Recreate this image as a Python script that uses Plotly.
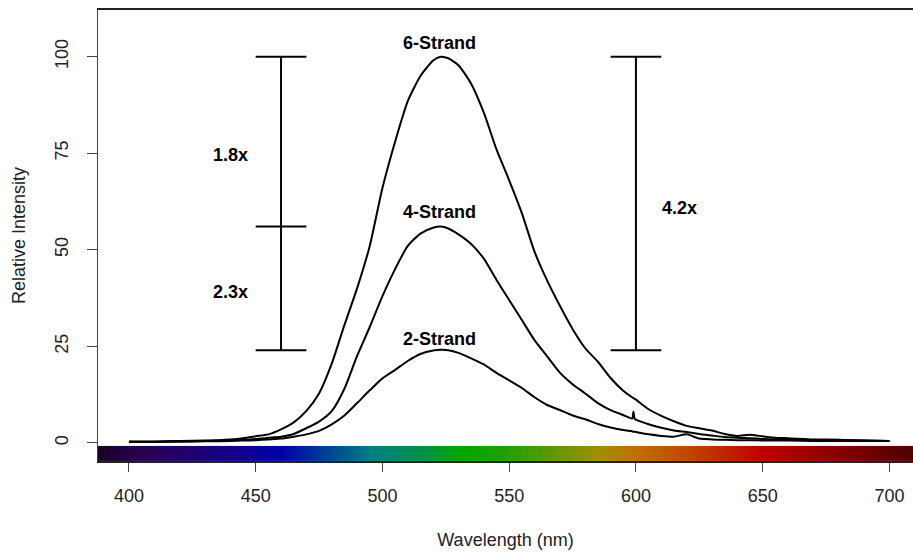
import plotly.graph_objects as go
import numpy as np

# ---------------- data ----------------
wavelength = [400, 410, 420, 430, 440, 445, 450, 455, 460, 465, 470, 475, 480, 485, 490,
              495, 500, 505, 510, 515, 520, 523, 526, 530, 535, 540, 545, 550, 555, 560,
              565, 570, 575, 580, 585, 590, 595, 598.5, 599, 599.5, 600, 605, 610, 615,
              620, 625, 630, 635, 640, 645, 650, 655, 660, 670, 680, 690, 700]

strand6 = [0.3, 0.3, 0.5, 0.6, 0.9, 1.2, 1.7, 2.2, 3.5, 5.3, 8.3, 12.8, 20.5, 30.5, 40,
           51, 66, 78, 88.5, 95, 99, 100, 99.6, 97.8, 93, 85.5, 76, 68, 59.5, 49.5,
           42, 35.5, 29.5, 24.5, 21, 16.8, 13.5, 11.8, 11.6, 11.4, 11.2, 8.7, 7, 5.6,
           4.4, 3.8, 3.2, 2.3, 1.8, 2.1, 1.7, 1.3, 1.2, 0.9, 0.8, 0.6, 0.5]

strand4 = [0.3, 0.3, 0.4, 0.5, 0.7, 0.8, 1.0, 1.3, 1.6, 2.3, 3.8, 5.5, 8.2, 14, 22.5,
           30, 38, 45, 51, 54.2, 55.7, 56, 55.5, 54, 51.5, 47.7, 42.2, 37, 31.8, 26.6,
           22.4, 18.2, 15.2, 12.8, 10.3, 8.5, 7.2, 6.3, 8.1, 6.2, 6.0, 4.8, 3.9, 3.2,
           2.8, 2.3, 1.9, 1.5, 1.3, 1.2, 1.0, 0.9, 0.9, 0.7, 0.7, 0.6, 0.5]

strand2 = [0.3, 0.3, 0.3, 0.4, 0.5, 0.6, 0.7, 0.9, 1.1, 1.6, 2.2, 3.1, 4.8, 7.1, 10.3,
           13.6, 16.7, 18.9, 21.2, 23.0, 23.9, 24.1, 24.0, 23.3, 21.9, 20.3, 18.1, 16.2, 14.2, 11.8,
           9.8, 8.5, 7.1, 6.1, 4.9, 4.0, 3.3, 3.0, 2.9, 2.9, 2.8, 2.2, 1.8, 1.6,
           2.2, 1.1, 0.9, 0.8, 0.7, 0.7, 0.6, 0.6, 0.6, 0.5, 0.5, 0.5, 0.5]

series_names = ["6-Strand", "4-Strand", "2-Strand"]
label_x = [522.7, 522.7, 522.7]
label_y = [103.5, 59.8, 27.0]

# comparison bars: position, levels
bar_x = [460, 600]
bar_levels = [[24, 56, 100], [24, 100]]
cap_half = 10
fold_text = ["1.8x", "2.3x", "4.2x"]
fold_x = [440, 440, 617]
fold_y = [74.5, 39.0, 60.7]

x_ticks = [400, 450, 500, 550, 600, 650, 700]
y_ticks = [0, 25, 50, 75, 100]

# spectrum colour strip
spec_nm = [388, 405, 425, 445, 460, 480, 496, 515, 532, 548, 568, 585, 600, 620, 650, 680, 709]
spec_col = ["#1a0024", "#2a0050", "#1e0070", "#100090", "#0000a8", "#004890", "#008080",
            "#009048", "#00a800", "#20a000", "#609800", "#a09000", "#c07000", "#c04800",
            "#c00000", "#880000", "#500000"]
strip_bounds = [-4.7, -0.8]

x_range = [387.8, 709.3]
y_range = [-4.7, 112.1]

FONT = "Liberation Sans, Arial, sans-serif"

fig = go.Figure()

# colour strip
grid = np.arange(spec_nm[0], spec_nm[-1] + 1, 1.0)
edges = np.concatenate([grid - 0.5, [grid[-1] + 0.5]])
lo, hi = spec_nm[0], spec_nm[-1]
cscale = [[(w - lo) / (hi - lo), c] for w, c in zip(spec_nm, spec_col)]
fig.add_trace(go.Heatmap(z=[list(grid)], x=edges, y=strip_bounds, colorscale=cscale,
                         zmin=lo, zmax=hi, showscale=False, hoverinfo="skip"))

# spectra
for name, vals in zip(series_names, [strand6, strand4, strand2]):
    fig.add_trace(go.Scatter(x=wavelength, y=vals, mode="lines", name=name,
                             line=dict(color="black", width=2, shape="spline", smoothing=0.6),
                             showlegend=False))

# comparison bars
for bx, levels in zip(bar_x, bar_levels):
    fig.add_trace(go.Scatter(x=[bx, bx], y=[min(levels), max(levels)], mode="lines",
                             line=dict(color="black", width=2), showlegend=False))
    for lv in levels:
        fig.add_trace(go.Scatter(x=[bx - cap_half, bx + cap_half], y=[lv, lv], mode="lines",
                                 line=dict(color="black", width=2), showlegend=False))

for t, x, y in zip(series_names, label_x, label_y):
    fig.add_annotation(x=x, y=y, text="<b>%s</b>" % t, showarrow=False,
                       font=dict(family=FONT, size=18, color="black"))
for t, x, y in zip(fold_text, fold_x, fold_y):
    fig.add_annotation(x=x, y=y, text="<b>%s</b>" % t, showarrow=False,
                       font=dict(family=FONT, size=18, color="black"))

fig.update_layout(
    width=913, height=554,
    margin=dict(l=98, r=0, t=10, b=93),
    paper_bgcolor="white", plot_bgcolor="white",
    font=dict(family=FONT, size=18, color="#222"),
    xaxis=dict(range=x_range, tickvals=x_ticks, ticks="outside", ticklen=9,
               tickcolor="#444", tickwidth=1.3, showgrid=False, zeroline=False,
               showline=True, linecolor="#222", linewidth=1.5, mirror=True,
               ticklabelstandoff=9,
               title=dict(text="Wavelength (nm)", standoff=28, font=dict(size=18))),
    yaxis=dict(range=y_range, tickvals=y_ticks, ticks="outside", ticklen=10,
               tickcolor="#444", tickwidth=1.3, showgrid=False, zeroline=False,
               showline=True, linecolor="#444", linewidth=1.3, mirror=True,
               tickangle=-90, ticklabelstandoff=12,
               title=dict(text="Relative Intensity", standoff=21, font=dict(size=18))),
)

fig.write_html("out.html")
